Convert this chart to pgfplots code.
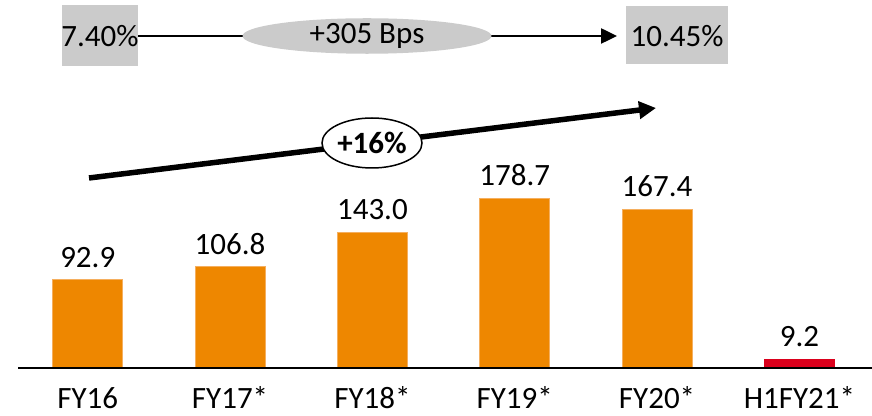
\documentclass[border=0pt]{standalone}
\usepackage{pgfplots}
\pgfplotsset{compat=1.18}
\usepackage{fontspec}
\setmainfont{Carlito}
\usetikzlibrary{arrows.meta,shapes.geometric}
\definecolor{barorange}{RGB}{238,135,0}
\definecolor{baredge}{RGB}{245,175,95}
\definecolor{barred}{RGB}{218,0,28}
\definecolor{boxgray}{RGB}{203,203,203}
\newcommand{\chartfont}{\fontsize{31}{37}\selectfont}
\begin{document}
\begin{tikzpicture}
\useasboundingbox (0,0) rectangle (872pt,415pt);
\begin{axis}[
  at={(18pt,47pt)}, anchor=south west,
  width=854pt, height=368pt, scale only axis,
  xmin=-0.49, xmax=5.51, ymin=0, ymax=388,
  axis x line=bottom, axis y line=none,
  x axis line style={-, line width=2pt},
  axis on top,
  xtick={0,...,5},
  xticklabels={FY16,FY17*,FY18*,FY19*,FY20*,H1FY21*},
  major tick length=0pt,
  xticklabel style={font=\chartfont, anchor=base, yshift=-40pt, inner sep=0pt},
  ytick=\empty,
  ybar, bar width=70pt, bar shift=0pt,
  nodes near coords={\pgfmathprintnumber[fixed,zerofill,precision=1,assume math mode=true]{\pgfplotspointmeta}},
  every node near coord/.append style={font=\chartfont, inner sep=0pt, yshift=12pt},
  clip=false,
]
\addplot[fill=barorange, draw=baredge, line width=0.8pt] coordinates {
  (0,92.9) (1,106.8) (2,143.0) (3,178.7) (4,167.4)
};
\addplot[fill=barred, draw=barred, line width=0.8pt] coordinates {
  (5,9.2)
};
\end{axis}
% margin comparison
\fill[boxgray] (62pt,410pt) rectangle (138pt,349pt);
\node[font=\chartfont, inner sep=0pt] at (100pt,379pt) {7.40\%};
\fill[boxgray] (626pt,409pt) rectangle (728pt,351pt);
\node[font=\chartfont, inner sep=0pt] at (677pt,379pt) {10.45\%};
\draw[line width=2.5pt, -{Triangle[length=16pt,width=15pt]}] (138pt,379pt) -- (617pt,379pt);
\node[ellipse, fill=boxgray, minimum width=249pt, minimum height=27pt, inner sep=0pt, font=\chartfont] at (367pt,379pt) {+305 Bps};
% growth arrow
\draw[line width=5.5pt, -{Triangle[length=17pt,width=17pt]}] (89pt,237pt) -- (656pt,307pt);
\node[ellipse, draw=black, line width=1.5pt, fill=white, minimum width=100pt, minimum height=50pt, inner sep=0pt, font=\chartfont\bfseries] at (372pt,272pt) {+16\%};
\end{tikzpicture}
\end{document}
